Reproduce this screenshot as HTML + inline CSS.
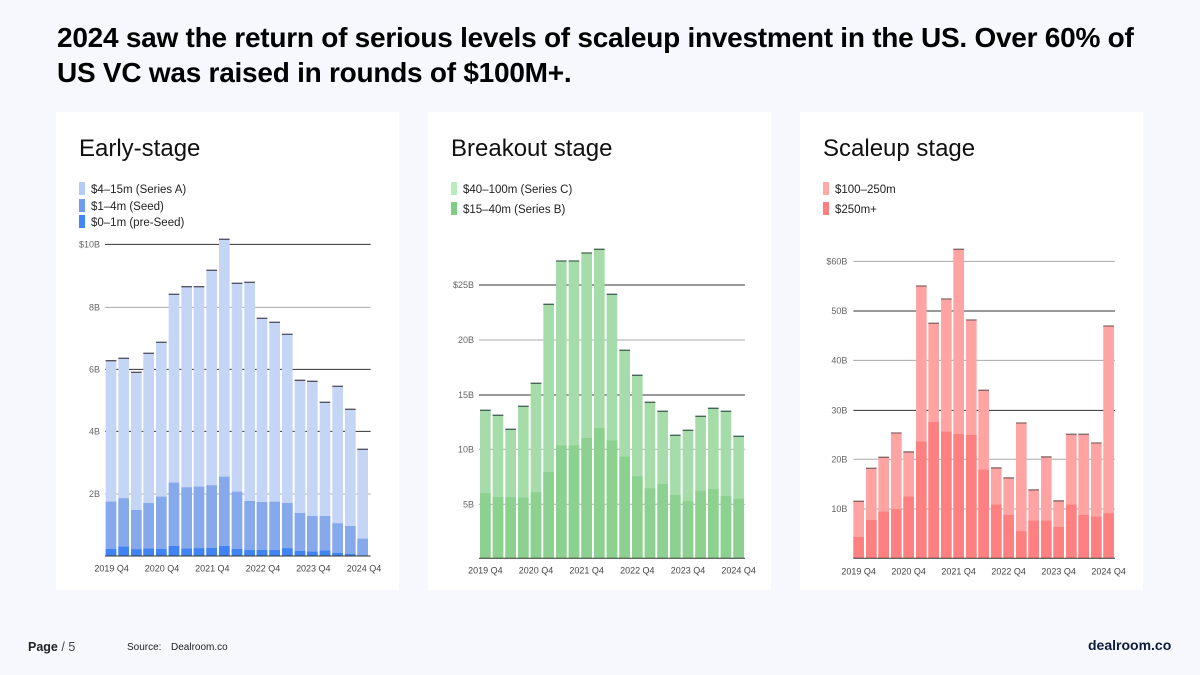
<!DOCTYPE html>
<html><head><meta charset="utf-8"><style>
body{margin:0;width:1200px;height:675px;background:#f6f8fd;font-family:"Liberation Sans",sans-serif;position:relative;overflow:hidden}
h1{position:absolute;left:57px;top:20px;margin:0;font-size:28px;line-height:35px;font-weight:bold;color:#000;letter-spacing:-0.25px;white-space:nowrap}
.card{position:absolute;top:112px;width:343px;height:478px;background:#fff}
.t{position:absolute;left:23px;top:23px;font-size:24px;color:#111}
.lg{position:absolute;left:23px;font-size:11.5px;color:#222}
.lg i{display:inline-block;width:6px;height:13px;vertical-align:-2px;margin-right:6px}
svg{position:absolute;left:0;top:0}
.ft{position:absolute;top:640px;font-size:12px;color:#222}
</style></head><body>
<h1>2024 saw the return of serious levels of scaleup investment in the US. Over 60% of<br>US VC was raised in rounds of $100M+.</h1>

<div class="card" style="left:56px"><div class="t">Early-stage</div>
<div class="lg" style="top:70px"><i style="background:#b5cbf7"></i>$4–15m (Series A)</div>
<div class="lg" style="top:87px"><i style="background:#6f9cf0"></i>$1–4m (Seed)</div>
<div class="lg" style="top:103px"><i style="background:#4285f4"></i>$0–1m (pre-Seed)</div></div>
<div class="card" style="left:428px"><div class="t">Breakout stage</div>
<div class="lg" style="top:70px"><i style="background:#b9ebbb"></i>$40–100m (Series C)</div>
<div class="lg" style="top:90px"><i style="background:#7fcc84"></i>$15–40m (Series B)</div></div>
<div class="card" style="left:800px"><div class="t">Scaleup stage</div>
<div class="lg" style="top:70px"><i style="background:#ffa8a8"></i>$100–250m</div>
<div class="lg" style="top:90px"><i style="background:#ff7e7e"></i>$250m+</div></div>

<svg width="1200" height="675" font-family="Liberation Sans,sans-serif">
<g transform="translate(60,230) scale(0.3333)">
<g stroke-width="3"><path d="M135 43H932M135 418H932M135 604H932" stroke="#333"/><path d="M135 232H932M135 792H932" stroke="#aaa"/></g>
<path fill="#c5d5f5" d="M137 392h32V978h-32zM175 385h32V978h-32zM213 427h32V978h-32zM250 370h32V978h-32zM288 337h32V978h-32zM326 193h32V978h-32zM364 170h32V978h-32zM401 170h32V978h-32zM439 121h32V978h-32zM477 28h32V978h-32zM515 160h32V978h-32zM553 157h32V978h-32zM590 265h32V978h-32zM628 277h32V978h-32zM666 313h32V978h-32zM704 451h32V978h-32zM741 454h32V978h-32zM779 517h32V978h-32zM817 469h32V978h-32zM855 538h32V978h-32zM892 658h32V978h-32z"/>
<path fill="#86a9ec" d="M137 815h32V978h-32zM175 805h32V978h-32zM213 840h32V978h-32zM250 819h32V978h-32zM288 800h32V978h-32zM326 758h32V978h-32zM364 772h32V978h-32zM401 770h32V978h-32zM439 766h32V978h-32zM477 740h32V978h-32zM515 785h32V978h-32zM553 813h32V978h-32zM590 816h32V978h-32zM628 815h32V978h-32zM666 819h32V978h-32zM704 849h32V978h-32zM741 858h32V978h-32zM779 858h32V978h-32zM817 880h32V978h-32zM855 888h32V978h-32zM892 926h32V978h-32z"/>
<path fill="#3f83f4" d="M137 957h32V978h-32zM175 950h32V978h-32zM213 958h32V978h-32zM250 956h32V978h-32zM288 957h32V978h-32zM326 948h32V978h-32zM364 956h32V978h-32zM401 955h32V978h-32zM439 954h32V978h-32zM477 948h32V978h-32zM515 957h32V978h-32zM553 960h32V978h-32zM590 960h32V978h-32zM628 960h32V978h-32zM666 955h32V978h-32zM704 963h32V978h-32zM741 965h32V978h-32zM779 962h32V978h-32zM817 969h32V978h-32zM855 972h32V978h-32z"/>
<path stroke="#556" stroke-width="4" fill="none" d="M137 392h32M175 385h32M213 427h32M250 370h32M288 337h32M326 193h32M364 170h32M401 170h32M439 121h32M477 28h32M515 160h32M553 157h32M590 265h32M628 277h32M666 313h32M704 451h32M741 454h32M779 517h32M817 469h32M855 538h32M892 658h32"/>
<path stroke="#333" stroke-width="3" d="M135 978H932"/>
<g font-size="27" fill="#666" text-anchor="end"><text x="120" y="52">$10B</text><text x="120" y="241">8B</text><text x="120" y="427">6B</text><text x="120" y="613">4B</text><text x="120" y="801">2B</text></g>
<g font-size="27" fill="#444" text-anchor="middle"><text x="155" y="1025">2019 Q4</text><text x="306" y="1025">2020 Q4</text><text x="457" y="1025">2021 Q4</text><text x="609" y="1025">2022 Q4</text><text x="760" y="1025">2023 Q4</text><text x="912" y="1025">2024 Q4</text></g>
</g>

<g transform="translate(440,240) scale(0.3333)">
<g stroke-width="3"><path d="M117 135H915M117 465H915" stroke="#333"/><path d="M117 300H915M117 628H915M117 793H915" stroke="#aaa"/></g>
<path fill="#a6dca9" d="M120 511h32V955h-32zM158 526h32V955h-32zM196 568h32V955h-32zM234 499h32V955h-32zM272 430h32V955h-32zM310 193h32V955h-32zM348 63h32V955h-32zM386 63h32V955h-32zM424 39h32V955h-32zM462 28h32V955h-32zM500 163h32V955h-32zM538 331h32V955h-32zM576 406h32V955h-32zM614 487h32V955h-32zM652 514h32V955h-32zM690 586h32V955h-32zM728 571h32V955h-32zM766 529h32V955h-32zM804 505h32V955h-32zM842 514h32V955h-32zM880 589h32V955h-32z"/>
<path fill="#8cd190" d="M120 760h32V955h-32zM158 771h32V955h-32zM196 771h32V955h-32zM234 773h32V955h-32zM272 757h32V955h-32zM310 696h32V955h-32zM348 616h32V955h-32zM386 616h32V955h-32zM424 594h32V955h-32zM462 564h32V955h-32zM500 601h32V955h-32zM538 650h32V955h-32zM576 709h32V955h-32zM614 745h32V955h-32zM652 732h32V955h-32zM690 765h32V955h-32zM728 784h32V955h-32zM766 753h32V955h-32zM804 747h32V955h-32zM842 768h32V955h-32zM880 777h32V955h-32z"/>
<path stroke="#465" stroke-width="4" fill="none" d="M120 511h32M158 526h32M196 568h32M234 499h32M272 430h32M310 193h32M348 63h32M386 63h32M424 39h32M462 28h32M500 163h32M538 331h32M576 406h32M614 487h32M652 514h32M690 586h32M728 571h32M766 529h32M804 505h32M842 514h32M880 589h32"/>
<path stroke="#333" stroke-width="3" d="M117 955H915"/>
<g font-size="27" fill="#666" text-anchor="end"><text x="102" y="144">$25B</text><text x="102" y="309">20B</text><text x="102" y="474">15B</text><text x="102" y="637">10B</text><text x="102" y="802">5B</text></g>
<g font-size="27" fill="#444" text-anchor="middle"><text x="136" y="1000">2019 Q4</text><text x="288" y="1000">2020 Q4</text><text x="440" y="1000">2021 Q4</text><text x="592" y="1000">2022 Q4</text><text x="744" y="1000">2023 Q4</text><text x="896" y="1000">2024 Q4</text></g>
</g>

<g transform="translate(810,240) scale(0.3333)">
<g stroke-width="3"><path d="M130 213H915M130 511H915" stroke="#333"/><path d="M130 64H915M130 361H915M130 658H915M130 807H915" stroke="#aaa"/></g>
<path fill="#ffa3a3" d="M130 784h32V955h-32zM168 685h32V955h-32zM205 652h32V955h-32zM243 579h32V955h-32zM280 636h32V955h-32zM318 138h32V955h-32zM355 250h32V955h-32zM393 177h32V955h-32zM430 28h32V955h-32zM468 240h32V955h-32zM505 451h32V955h-32zM543 684h32V955h-32zM580 714h32V955h-32zM618 549h32V955h-32zM655 750h32V955h-32zM693 651h32V955h-32zM730 783h32V955h-32zM768 583h32V955h-32zM805 583h32V955h-32zM843 609h32V955h-32zM880 258h32V955h-32z"/>
<path fill="#ff8080" d="M130 891h32V955h-32zM168 840h32V955h-32zM205 815h32V955h-32zM243 807h32V955h-32zM280 770h32V955h-32zM318 605h32V955h-32zM355 546h32V955h-32zM393 575h32V955h-32zM430 582h32V955h-32zM468 585h32V955h-32zM505 689h32V955h-32zM543 794h32V955h-32zM580 825h32V955h-32zM618 874h32V955h-32zM655 842h32V955h-32zM693 842h32V955h-32zM730 861h32V955h-32zM768 794h32V955h-32zM805 825h32V955h-32zM843 830h32V955h-32zM880 820h32V955h-32z"/>
<path stroke="#866" stroke-width="4" fill="none" d="M130 784h32M168 685h32M205 652h32M243 579h32M280 636h32M318 138h32M355 250h32M393 177h32M430 28h32M468 240h32M505 451h32M543 684h32M580 714h32M618 549h32M655 750h32M693 651h32M730 783h32M768 583h32M805 583h32M843 609h32M880 258h32"/>
<path stroke="#333" stroke-width="3" d="M130 955H915"/>
<g font-size="27" fill="#666" text-anchor="end"><text x="112" y="73">$60B</text><text x="112" y="222">50B</text><text x="112" y="370">40B</text><text x="112" y="520">30B</text><text x="112" y="667">20B</text><text x="112" y="816">10B</text></g>
<g font-size="27" fill="#444" text-anchor="middle"><text x="146" y="1003">2019 Q4</text><text x="296" y="1003">2020 Q4</text><text x="446" y="1003">2021 Q4</text><text x="596" y="1003">2022 Q4</text><text x="746" y="1003">2023 Q4</text><text x="896" y="1003">2024 Q4</text></g>
</g>
</svg>

<div class="ft" style="left:28px;font-size:12.5px"><b style="font-weight:600">Page</b> <span style="color:#444">/ 5</span></div>
<div class="ft" style="left:127px;font-size:10px;top:642px">Source:</div>
<div class="ft" style="left:171px;font-size:10px;top:642px">Dealroom.co</div>
<div class="ft" style="left:1088px;font-size:14px;top:637px;font-weight:bold;color:#0d1b3d">dealroom.co</div>
</body></html>
